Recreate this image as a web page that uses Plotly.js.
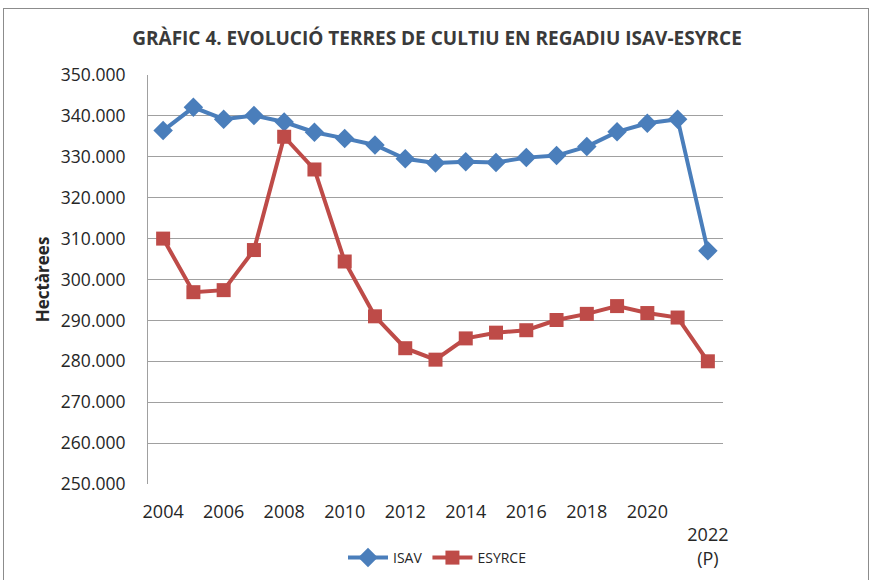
<!DOCTYPE html>
<html>
<head>
<meta charset="utf-8">
<script src="https://cdn.plot.ly/plotly-3.0.1.min.js"></script>
<style>
  html, body { margin: 0; padding: 0; background: #fff; }
  #wrap { position: relative; width: 874px; height: 580px; }
  #chart { width: 874px; height: 580px; }
  #frame { position: absolute; left: 3px; top: 8px; width: 866px; height: 575px;
           border: 1px solid #8c8c8c; pointer-events: none; box-sizing: border-box; }
</style>
</head>
<body>
<div id="wrap"><div id="chart"></div><div id="frame"></div></div>
<script>
const years = [2004, 2005, 2006, 2007, 2008, 2009, 2010, 2011, 2012, 2013, 2014, 2015, 2016, 2017, 2018, 2019, 2020, 2021, 2022];
const isav = [336400, 342100, 339200, 340100, 338500, 336000, 334500, 332900, 329500, 328500, 328800, 328600, 329800, 330300, 332500, 336100, 338200, 339200, 307000];
const esyrce = [310000, 296900, 297400, 307200, 334900, 326900, 304400, 291000, 283200, 280400, 285600, 287000, 287600, 290100, 291600, 293500, 291800, 290700, 280000];
const xTickVals = [2004, 2006, 2008, 2010, 2012, 2014, 2016, 2018, 2020, 2022];
const xTickText = ['2004', '2006', '2008', '2010', '2012', '2014', '2016', '2018', '2020', '<br>2022<br>(P)'];
const yTickVals = [250000, 260000, 270000, 280000, 290000, 300000, 310000, 320000, 330000, 340000, 350000];
const yTickText = ['250.000', '260.000', '270.000', '280.000', '290.000', '300.000', '310.000', '320.000', '330.000', '340.000', '350.000'];

const FONT = "'Open Sans', 'Noto Sans', sans-serif";
const traces = [
  { x: years, y: isav, name: 'ISAV', type: 'scatter', mode: 'lines+markers',
    line: { color: '#4a7ebb', width: 4 },
    marker: { symbol: 'diamond', size: 15, color: '#4a7ebb' } },
  { x: years, y: esyrce, name: 'ESYRCE', type: 'scatter', mode: 'lines+markers',
    line: { color: '#be4b48', width: 4 },
    marker: { symbol: 'square', size: 14, color: '#be4b48' } }
];
const layout = {
  width: 874, height: 580,
  margin: { l: 148, r: 151, t: 75, b: 96 },
  paper_bgcolor: '#fff', plot_bgcolor: '#fff',
  font: { family: FONT, color: '#262626', size: 18 },
  title: { text: '<b>GRÀFIC 4. EVOLUCIÓ TERRES DE CULTIU EN REGADIU ISAV-ESYRCE</b>',
           x: 0.5, xref: 'container', xanchor: 'center', y: 1 - 38 / 580, yanchor: 'middle', yref: 'container',
           font: { family: FONT, size: 19, color: '#3a3a3a' } },
  xaxis: { range: [2003.5, 2022.5], tickmode: 'array', tickvals: xTickVals, ticktext: xTickText,
           showgrid: false, zeroline: false, showline: false, ticks: '', ticklabelstandoff: 15,
           tickfont: { family: FONT, size: 18, color: '#262626' } },
  yaxis: { range: [250000, 350000], tickmode: 'array', tickvals: yTickVals, ticktext: yTickText,
           showgrid: true, gridcolor: '#a0a0a0', gridwidth: 1, zeroline: false,
           showline: true, linecolor: '#a0a0a0', linewidth: 1,
           ticks: '', ticklabelstandoff: 18,
           tickfont: { family: FONT, size: 17.5, color: '#262626' },
           title: { text: '<b>Hectàrees</b>', standoff: 6, font: { family: FONT, size: 17, color: '#262626' } } },
  legend: { orientation: 'h', x: 0.5, xanchor: 'center', xref: 'container', y: 1 - 558 / 580, yanchor: 'middle', yref: 'container',
            font: { family: FONT, size: 14, color: '#262626' }, itemwidth: 40, tracegroupgap: 0 },
  showlegend: true
};
Plotly.newPlot('chart', traces, layout, { displayModeBar: false, staticPlot: true });
</script>
</body>
</html>
